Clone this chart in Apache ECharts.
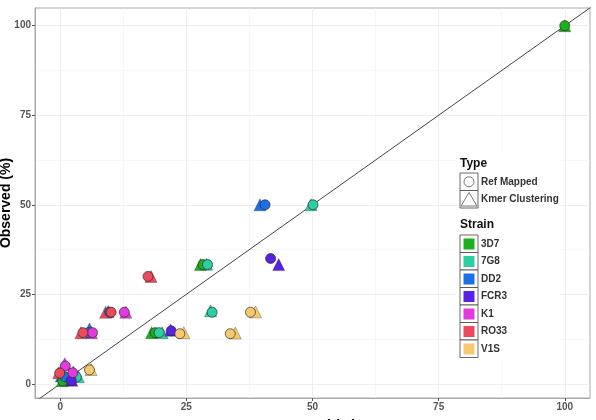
<!DOCTYPE html>
<html>
<head>
<meta charset="utf-8">
<script src="https://cdn.jsdelivr.net/npm/echarts@6/dist/echarts.min.js"></script>
<style>
  html, body { margin: 0; padding: 0; background: #fff; }
  #main { width: 596px; height: 420px; }
</style>
</head>
<body>
<div id="main"></div>
<script type="text/javascript">
    // strains and colours
    var strains = ['3D7', '7G8', 'DD2', 'FCR3', 'K1', 'RO33', 'V1S'];
    var strainColors = ['#1daf1d', '#2ccfa3', '#1c70e6', '#5a22e6', '#e23ade', '#ec4a5c', '#f7c96e'];
    var types = ['Ref Mapped', 'Kmer Clustering'];
    var typeSymbols = ['circle', 'triangle'];
    var tickValues = [0, 25, 50, 75, 100];
    var minorValues = [12.5, 37.5, 62.5, 87.5];
    var diagonal = [-10, 110];

    // [expected, observed] per strain, Ref Mapped (circles)
    var refMapped = {
        '3D7':  [[100, 100], [28.3, 33.3], [18.8, 14.3], [0.5, 0.8]],
        '7G8':  [[50.1, 50], [29.2, 33.3], [30.1, 20], [19.6, 14.3], [3.2, 1.9]],
        'DD2':  [[40.6, 50], [9.8, 20], [5.6, 14.3], [0.9, 2.0]],
        'FCR3': [[41.7, 35], [22.0, 14.8], [2.2, 0.9]],
        'K1':   [[12.7, 20], [6.4, 14.3], [1.0, 5.0], [2.5, 3.1]],
        'RO33': [[17.4, 30], [10.1, 20], [4.5, 14.3], [-0.1, 3.0]],
        'V1S':  [[37.7, 20], [33.7, 14.0], [23.7, 14.0], [5.8, 3.9]]
    };
    // Kmer Clustering (triangles)
    var kmerClustering = {
        '3D7':  [[100, 100], [27.8, 33.3], [18.1, 14.3], [0.4, 0.9]],
        '7G8':  [[49.7, 50], [29.0, 33.4], [29.8, 20.4], [20.2, 14.3], [3.6, 2.0]],
        'DD2':  [[39.6, 50], [9.5, 20.2], [5.8, 15.3], [0.2, 2.2]],
        'FCR3': [[43.3, 33.3], [21.9, 15.0], [2.3, 1.0]],
        'K1':   [[13.0, 20], [6.2, 14.3], [0.9, 5.6], [2.6, 3.3]],
        'RO33': [[9.0, 20], [4.1, 14.3], [18.0, 30], [-0.3, 3.1]],
        'V1S':  [[38.7, 20.1], [34.7, 14.2], [24.5, 14.3], [6.1, 4.0]]
    };

    var myChart = echarts.init(document.getElementById('main'));
    var font = 'Liberation Sans, Arial, sans-serif';

    var series = [];
    // minor grid lines (ggplot style), kept under everything
    series.push({
        type: 'line',
        data: [],
        silent: true,
        z: 0,
        markLine: {
            silent: true,
            z: 0,
            symbol: 'none',
            label: { show: false },
            lineStyle: { color: '#f2f2f2', width: 0.6, type: 'solid' },
            data: minorValues.map(function (v) { return { xAxis: v }; })
                .concat(minorValues.map(function (v) { return { yAxis: v }; }))
        }
    });
    // reference line y = x
    series.push({
        type: 'line',
        data: diagonal.map(function (v) { return [v, v]; }),
        symbol: 'none',
        silent: true,
        lineStyle: { color: '#444', width: 1 },
        z: 2,
        clip: true
    });
    var groups = [kmerClustering, refMapped];
    var groupSymbols = ['triangle', 'circle'];
    groups.forEach(function (g, gi) {
        strains.forEach(function (s, si) {
            series.push({
                name: s,
                type: 'scatter',
                data: g[s],
                symbol: groupSymbols[gi],
                symbolSize: gi === 0 ? 12 : 10,
                itemStyle: {
                    color: strainColors[si],
                    borderColor: gi === 0 ? 'rgba(40,40,40,0.35)' : 'rgba(40,40,40,0.75)',
                    borderWidth: 0.9,
                    opacity: 1
                },
                z: 3 + gi
            });
        });
    });

    // legend drawn as ggplot style boxed keys
    var graphics = [];
    var lx = 460, keyW = 18, keyH = 17.5;
    graphics.push({ type: 'rect', shape: { x: 456, y: 154, width: 104, height: 206 }, style: { fill: '#fff' }, z: 10 });
    graphics.push({ type: 'text', left: lx, top: 158, style: { text: 'Type', font: 'bold 12px ' + font, fill: '#111' }, z: 11 });
    types.forEach(function (t, i) {
        var y = 173 + i * keyH;
        graphics.push({ type: 'rect', shape: { x: lx, y: y, width: keyW, height: keyH }, style: { fill: '#fff', stroke: '#444', lineWidth: 0.8 }, z: 11 });
        if (typeSymbols[i] === 'circle') {
            graphics.push({ type: 'circle', shape: { cx: lx + keyW / 2, cy: y + keyH / 2, r: 5 }, style: { fill: 'none', stroke: '#555', lineWidth: 0.8 }, z: 12 });
        } else {
            graphics.push({ type: 'polygon', shape: { points: [[lx + keyW / 2, y + 2], [lx + 1, y + keyH - 2], [lx + keyW - 1, y + keyH - 2]] }, style: { fill: 'none', stroke: '#555', lineWidth: 0.8 }, z: 12 });
        }
        graphics.push({ type: 'text', x: lx + keyW + 3, y: y + keyH / 2, style: { text: t, font: 'bold 10px ' + font, fill: '#333', verticalAlign: 'middle' }, z: 11 });
    });
    graphics.push({ type: 'text', left: lx, top: 219, style: { text: 'Strain', font: 'bold 12px ' + font, fill: '#111' }, z: 11 });
    strains.forEach(function (s, i) {
        var y = 235 + i * keyH;
        graphics.push({ type: 'rect', shape: { x: lx, y: y, width: keyW, height: keyH }, style: { fill: '#fff', stroke: '#444', lineWidth: 0.8 }, z: 11 });
        graphics.push({ type: 'rect', shape: { x: lx + 3.5, y: y + 3.5, width: 11, height: 11 }, style: { fill: strainColors[i] }, z: 12 });
        graphics.push({ type: 'text', x: lx + keyW + 3, y: y + keyH / 2, style: { text: s, font: 'bold 10px ' + font, fill: '#333', verticalAlign: 'middle' }, z: 11 });
    });

    var axisCommon = {
        type: 'value',
        nameMoveOverlap: false,
        axisLine: { show: true, onZero: false, lineStyle: { color: '#aaa', width: 1 } },
        axisTick: { show: true, length: 3, lineStyle: { color: '#555' }, customValues: tickValues },
        axisLabel: { color: '#555', fontSize: 10, fontWeight: 'bold', fontFamily: font, margin: 4, customValues: tickValues },
        splitLine: { show: true, lineStyle: { color: '#ebebeb', width: 0.8 } }
    };

    var option = {
        animation: false,
        backgroundColor: '#fff',
        grid: { left: 35, right: 6, top: 8, bottom: 22, outerBoundsMode: 'none', containLabel: false, show: true, borderColor: '#aaa', borderWidth: 1 },
        xAxis: Object.assign({}, axisCommon, {
            min: -5, max: 105,
            name: 'Expected (%)',
            nameLocation: 'middle',
            nameGap: 21,
            nameTextStyle: { fontSize: 14, fontWeight: 'bold', color: '#000', fontFamily: font }
        }),
        yAxis: Object.assign({}, axisCommon, {
            min: -3.95, max: 104.95,
            name: 'Observed (%)',
            nameLocation: 'middle',
            nameGap: 22,
            nameTextStyle: { fontSize: 14, fontWeight: 'bold', color: '#000', fontFamily: font }
        }),
        graphic: graphics,
        series: series
    };
    myChart.setOption(option, true);
</script>
</body>
</html>
